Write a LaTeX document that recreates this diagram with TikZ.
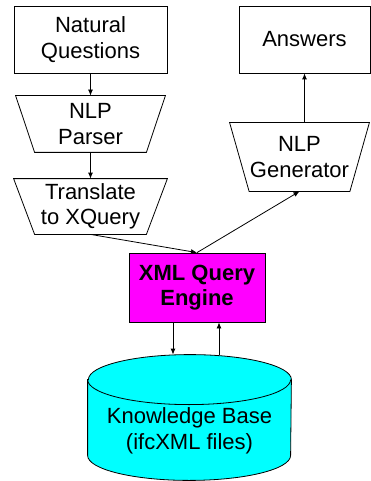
\documentclass[tikz,border=0pt]{standalone}
\usepackage{fontspec}
\setmainfont{Liberation Sans}
\usetikzlibrary{arrows.meta}
\definecolor{engfill}{RGB}{255,0,255}
\definecolor{kbfill}{RGB}{0,255,255}

\begin{document}
\begin{tikzpicture}[x=1pt,y=-1pt,font=\fontsize{22}{25.5}\selectfont,line width=0.8pt,
  >={Latex[length=6pt,width=5pt]},
  box/.style={draw,align=center,inner sep=0pt},
  funnel/.style={align=center,inner sep=0pt}]
  \useasboundingbox (0,0) rectangle (371,481);
  \node[box, minimum width=153pt, minimum height=67pt] (nq) at (90.5,39.5) {Natural\\Questions};
  \node[funnel, minimum width=149pt, minimum height=56pt] (parser) at (90.5,124) {NLP\\Parser};
  \node[funnel, minimum width=153pt, minimum height=55pt] (xq) at (90.5,206.5) {Translate\\to XQuery};
  \node[box, minimum width=131pt, minimum height=67pt] (ans) at (304.5,39.5) {Answers};
  \node[funnel, minimum width=139pt, minimum height=68pt] (gen) at (299.5,157) {NLP\\Generator};
  \node[box, fill=engfill, font=\fontsize{22}{25.5}\selectfont\bfseries, minimum width=136pt, minimum height=69pt] (eng) at (197,287.5) {XML Query\\Engine};
  \node[minimum width=203pt, minimum height=125pt] (kb) at (189.5,417.5) {};
  \foreach \n/\d in {parser/19,xq/21,gen/19.5}
    \draw (\n.north west) -- (\n.north east) -- ([xshift=-\d pt]\n.south east) -- ([xshift=\d pt]\n.south west) -- cycle;
  \draw[fill=kbfill] ([yshift=-25pt]kb.north west) -- ([yshift=25pt]kb.south west)
    arc[start angle=180,end angle=360,x radius=101.5pt,y radius=25pt]
    -- ([yshift=-25pt]kb.north east)
    arc[start angle=0,end angle=180,x radius=101.5pt,y radius=25pt] -- cycle;
  \draw ([yshift=-25pt]kb.north west) arc[start angle=180,end angle=360,x radius=101.5pt,y radius=25pt];
  \node[align=center] (kbtext) at (189.5,431) {Knowledge Base\\(ifcXML files)};
  \draw[->] (nq) -- (parser);
  \draw[->] (parser) -- (xq);
  \draw[->] (gen.north -| ans.south) -- (ans.south);
  \draw[->] (xq.south) -- (eng.north);
  \draw[->] (eng.north) -- (gen.south);
  \draw[->] ([xshift=-24pt]eng.south) -- ([xshift=-24pt]eng.south |- kb.north);
  \draw[<-] ([xshift=22pt]eng.south) -- ([xshift=22pt]eng.south |- kb.north);
\end{tikzpicture}
\end{document}
